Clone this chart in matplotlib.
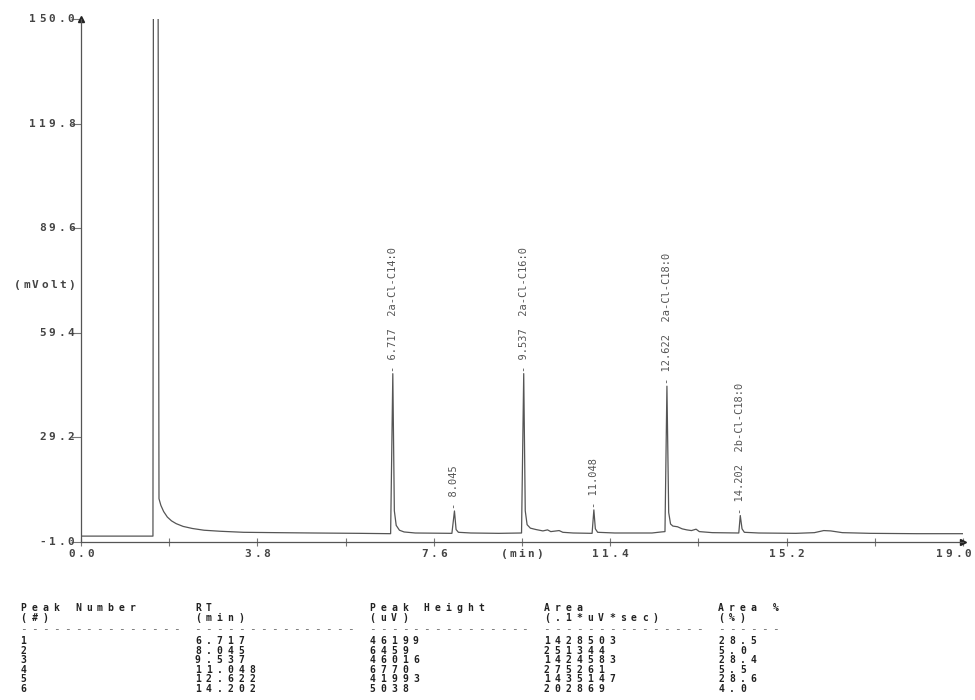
import numpy as np
import matplotlib
matplotlib.use("Agg")
import matplotlib.pyplot as plt
from matplotlib.transforms import IdentityTransform

# peak report
peak_num = ["1", "2", "3", "4", "5", "6"]
peak_rt = ["6.717", "8.045", "9.537", "11.048", "12.622", "14.202"]
peak_height = [46199, 6459, 46016, 6770, 41993, 5038]   # uV
peak_area = [1428503, 251344, 1424583, 275261, 1435147, 202869]
area_pct = ["28.5", "5.0", "28.4", "5.5", "28.6", "4.0"]
peak_name = ["2a-Cl-C14:0", "", "2a-Cl-C16:0", "", "2a-Cl-C18:0", "2b-Cl-C18:0"]
# baseline under each peak (mVolt)
peak_base = [1.4, 1.5, 1.6, 1.5, 2.0, 1.6]

# detector trace without the peak tops (min, mVolt)
trace_t = [0.00, 1.55, 1.56, 1.66, 1.68, 1.72, 1.78, 1.86, 1.95, 2.05, 2.20, 2.40,
           2.65, 3.00, 3.50, 4.20, 5.00, 6.00, 6.67,
           6.75, 6.79, 6.86, 6.96, 7.20, 7.99,
           8.08, 8.13, 8.40, 9.00, 9.49,
           9.57, 9.61, 9.68, 9.80, 9.95, 10.05, 10.12, 10.30, 10.38, 10.60, 11.01,
           11.08, 11.13, 11.50, 12.30, 12.50, 12.58,
           12.66, 12.70, 12.75, 12.85, 12.95, 13.05, 13.15, 13.25, 13.32, 13.60, 14.17,
           14.24, 14.29, 14.60, 15.40, 15.80, 16.00, 16.15, 16.40, 17.00, 18.00, 19.00]
trace_v = [0.7, 0.7, 165, 165, 11.5, 9.6, 7.8, 6.2, 5.1, 4.3, 3.5, 2.9,
           2.4, 2.1, 1.8, 1.7, 1.6, 1.5, 1.4,
           8.0, 3.8, 2.4, 1.9, 1.6, 1.5,
           2.6, 1.8, 1.6, 1.5, 1.6,
           8.0, 4.0, 3.0, 2.6, 2.2, 2.5, 2.0, 2.3, 1.8, 1.6, 1.5,
           2.8, 1.8, 1.6, 1.6, 1.9, 2.0,
           7.5, 4.2, 3.6, 3.4, 2.8, 2.5, 2.3, 2.7, 2.0, 1.7, 1.6,
           2.8, 1.8, 1.6, 1.5, 1.7, 2.3, 2.2, 1.7, 1.5, 1.4, 1.4]

x_ticks = [0.0, 3.8, 7.6, 11.4, 15.2, 19.0]
y_ticks = [-1.0, 29.2, 59.4, 89.6, 119.8, 150.0]

W, H = 975, 700
fig = plt.figure(figsize=(W / 100, H / 100), dpi=100)
ax = fig.add_axes([81 / W, 1 - 542 / H, 882 / W, 523 / H])

rt = [float(r) for r in peak_rt]
apex = [b + h / 1000 for b, h in zip(peak_base, peak_height)]
t = np.array(trace_t + rt)
v = np.array(trace_v + apex)
order = np.argsort(t, kind="stable")
ax.plot(t[order], v[order], color="#555555", lw=0.9)

ax.set_xlim(0, 19)
ax.set_ylim(-1, 150)
for s in ["top", "right"]:
    ax.spines[s].set_visible(False)
for s in ["left", "bottom"]:
    ax.spines[s].set_color("#555555")
    ax.spines[s].set_linewidth(0.9)
ax.set_xticks(np.arange(0, 19.01, 1.9))
ax.set_yticks(y_ticks)
ax.set_xticklabels([])
ax.set_yticklabels([])
ax.tick_params(axis="x", direction="inout", length=6, color="#777777")
ax.tick_params(axis="y", direction="out", length=7, color="#777777")
ax.plot([0], [150], marker="^", color="#222222", ms=5, clip_on=False)
ax.plot([19], [-1], marker=">", color="#222222", ms=5, clip_on=False)

mono = "DejaVu Sans Mono"


def pitched(x, y, s, pitch, align="left", **kw):
    # draw a string with a fixed character pitch, x/y in pixels from top-left
    n = len(s)
    if align == "right":
        x0 = x - n * pitch
    elif align == "center":
        x0 = x - n * pitch / 2
    else:
        x0 = x
    for i, ch in enumerate(s):
        if ch == " ":
            continue
        fig.text(x0 + (i + 0.5) * pitch, H - y, ch, transform=IdentityTransform(),
                 ha="center", va="center", family=mono, **kw)


def to_px(xd, yd):
    px, py = ax.transData.transform((xd, yd))
    return px, H - py


# axis labels
akw = dict(fontsize=8, color="#444444", weight="bold")
for yt in y_ticks:
    _, py = to_px(0, yt)
    pitched(76, py, f"{yt:.1f}", 9.6, align="right", **akw)
pitched(76, 285, "(mVolt)", 9.0, align="right", **akw)
for xt in x_ticks:
    px, _ = to_px(xt, -1)
    lab = f"{xt:.1f}"
    px = min(px, 973 - len(lab) * 9.6 / 2)
    pitched(px, 554, lab, 9.6, align="center", **akw)
px, _ = to_px(9.5, -1)
pitched(px, 554, "(min)", 9.0, align="center", **akw)

# peak labels
for r, a, name in zip(peak_rt, apex, peak_name):
    lab = "- " + r + ("  " + name if name else "")
    ax.annotate(lab, xy=(float(r), a), xytext=(0, 2), textcoords="offset pixels",
                rotation=90, ha="center", va="bottom", family=mono,
                fontsize=7.5, color="#555555")

# peak table
col_x = [18, 192.4, 366.8, 541.2, 715.6]
p = 10.9
head1 = ["Peak Number", "RT", "Peak Height", "Area", "Area %"]
head2 = ["(#)", "(min)", "(uV)", "(.1*uV*sec)", "(%)"]
dashes = ["-" * 15] * 4 + ["-" * 6]
tkw = dict(fontsize=7, color="#222222", weight="bold")
for c in range(5):
    pitched(col_x[c], 608, head1[c], p, **tkw)
    pitched(col_x[c], 618, head2[c], p, **tkw)
    pitched(col_x[c], 629, dashes[c], p, fontsize=8, color="#666666")
for i in range(len(peak_num)):
    y = 641 + 9.6 * i
    row = [peak_num[i], peak_rt[i], str(peak_height[i]), str(peak_area[i]), area_pct[i]]
    for c in range(5):
        pitched(col_x[c], y, row[c], p, **tkw)

fig.savefig("out.png", dpi=100)
